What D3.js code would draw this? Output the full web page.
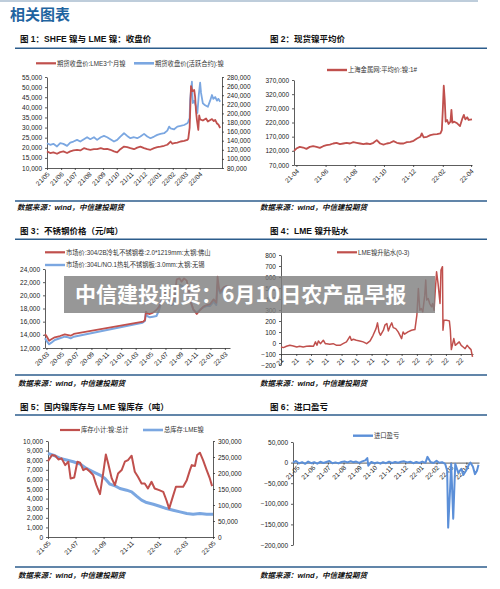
<!DOCTYPE html>
<html>
<head>
<meta charset="utf-8">
<script src="https://cdn.jsdelivr.net/npm/d3@7"></script>
<style>
  body { margin: 0; background: #fff; }
  svg text { font-family: "Liberation Sans", "Noto Sans CJK SC", sans-serif; fill: #222; }
  .tick text { font-size: 6.5px; }
  .tick line, .domain { stroke: #333; stroke-width: 0.8; }
  .ttl { font-size: 8.5px; font-weight: bold; fill: #111; }
  .src { font-size: 7.5px; font-weight: bold; font-style: italic; fill: #111; }
  .lg { font-size: 6.3px; fill: #333; }
</style>
</head>
<body>
<svg id="page" width="500" height="589"></svg>
<script>
// ---- data ----
var c1Months = ["21/05","21/06","21/07","21/08","21/09","21/10","21/11","21/12","22/01","22/02","22/03","22/04"];
var c1LeftTicks = [10000,15000,20000,25000,30000,35000,40000,45000,50000,55000];
var c1RightTicks = [80000,100000,120000,140000,160000,180000,200000,220000,240000,260000,280000];
var c1Lme = [["2021-05-01",18200],["2021-05-08",17400],["2021-05-15",17700],["2021-05-23",17050],["2021-05-30",17850],["2021-06-06",18200],["2021-06-14",17400],["2021-06-21",18200],["2021-06-28",18700],["2021-07-06",19000],["2021-07-13",18700],["2021-07-21",19800],["2021-07-28",19300],["2021-08-04",19000],["2021-08-12",19300],["2021-08-19",19300],["2021-08-27",19800],["2021-09-03",19300],["2021-09-10",19500],["2021-09-17",19000],["2021-09-25",18200],["2021-10-02",17700],["2021-10-09",19300],["2021-10-17",20600],["2021-10-24",20300],["2021-10-31",19800],["2021-11-08",19300],["2021-11-15",20100],["2021-11-22",20600],["2021-11-30",19800],["2021-12-07",19300],["2021-12-14",19000],["2021-12-22",19800],["2021-12-29",20300],["2022-01-05",20600],["2022-01-13",21000],["2022-01-20",21500],["2022-01-27",23100],["2022-01-31",22000],["2022-02-04",22300],["2022-02-11",22600],["2022-02-18",23100],["2022-02-26",23400],["2022-03-05",23900],["2022-03-07",24500],["2022-03-10",30000],["2022-03-13",50500],["2022-03-16",48000],["2022-03-20",48600],["2022-03-22",45200],["2022-03-24",38000],["2022-03-26",33700],["2022-03-29",28800],["2022-03-31",36000],["2022-04-02",34000],["2022-04-08",33500],["2022-04-15",34500],["2022-04-19",33000],["2022-04-28",34200],["2022-05-02",33200],["2022-05-05",33800],["2022-05-09",32000],["2022-05-12",31500],["2022-05-16",29800]];
var c1Shfe = [["2021-05-01",134500],["2021-05-08",131000],["2021-05-15",133100],["2021-05-23",127300],["2021-05-30",134500],["2021-06-06",133100],["2021-06-14",128700],["2021-06-21",136000],["2021-06-28",138200],["2021-07-06",141800],["2021-07-13",138200],["2021-07-21",143300],["2021-07-28",147600],["2021-08-04",143300],["2021-08-12",147600],["2021-08-19",141800],["2021-08-27",147600],["2021-09-03",150500],["2021-09-10",147600],["2021-09-17",143300],["2021-09-25",138200],["2021-10-02",141800],["2021-10-09",149100],["2021-10-17",156400],["2021-10-24",150500],["2021-10-31",145500],["2021-11-08",147600],["2021-11-15",145500],["2021-11-22",149100],["2021-11-30",155000],["2021-12-07",149100],["2021-12-14",145500],["2021-12-22",149100],["2021-12-29",152700],["2022-01-05",155000],["2022-01-13",156400],["2022-01-20",162200],["2022-01-24",170900],["2022-01-27",167300],["2022-02-04",165100],["2022-02-11",170900],["2022-02-18",172400],["2022-02-26",174500],["2022-03-05",178200],["2022-03-07",182000],["2022-03-10",190000],["2022-03-11",230000],["2022-03-15",269700],["2022-03-16",240000],["2022-03-17",222800],["2022-03-20",228000],["2022-03-24",215000],["2022-03-27",200900],["2022-03-30",240000],["2022-04-02",267500],["2022-04-04",245000],["2022-04-08",222100],["2022-04-13",218000],["2022-04-19",214700],["2022-04-24",228000],["2022-04-28",240400],["2022-05-01",232000],["2022-05-05",236000],["2022-05-09",228000],["2022-05-12",232000],["2022-05-16",225700]];

var c2Months = ["21-04","21-06","21-08","21-10","21-12","22-02","22-04"];
var c2Ticks = [70000,120000,170000,220000,270000,320000,370000];
var c2Avg = [["2021-03-27",119800],["2021-04-01",128100],["2021-04-08",134000],["2021-04-15",131700],["2021-04-22",126900],["2021-04-29",134000],["2021-05-06",136400],["2021-05-13",134000],["2021-05-20",130500],["2021-05-27",136400],["2021-06-03",140000],["2021-06-10",142300],["2021-06-17",145900],["2021-06-24",148300],["2021-07-01",143500],["2021-07-08",145900],["2021-07-15",148300],["2021-07-22",145900],["2021-07-29",150600],["2021-08-05",148300],["2021-08-12",145900],["2021-08-19",143500],["2021-08-26",145900],["2021-09-02",143500],["2021-09-09",148300],["2021-09-16",157700],["2021-09-23",145900],["2021-09-30",142300],["2021-10-07",145900],["2021-10-14",148300],["2021-10-21",154200],["2021-10-28",148300],["2021-11-04",145900],["2021-11-11",145900],["2021-11-18",150600],["2021-11-25",151800],["2021-12-02",155400],["2021-12-09",163700],["2021-12-16",169600],["2021-12-19",181500],["2021-12-23",167200],["2021-12-30",169600],["2022-01-06",175500],["2022-01-13",177900],["2022-01-20",179100],["2022-01-27",181500],["2022-01-30",193300],["2022-02-01",264500],["2022-02-03",349800],["2022-02-05",300000],["2022-02-07",223000],["2022-02-10",228900],["2022-02-13",214700],["2022-02-17",223000],["2022-02-19",264500],["2022-02-21",219400],["2022-02-25",223000],["2022-03-03",217000],["2022-03-09",207500],["2022-03-14",234800],["2022-03-17",246700],["2022-03-20",231300],["2022-03-24",238400],["2022-03-27",228900],["2022-04-03",231300]];

var c3Months = ["20-03","20-05","20-07","20-09","20-11","21-01","21-03","21-05","21-07","21-09","21-11","22-01","22-03"];
var c3Ticks = [12000,14000,16000,18000,20000,22000,24000];
var c3Cold = [["2020-02-24",14130],["2020-03-01",13820],["2020-03-12",13110],["2020-03-21",13320],["2020-04-04",13620],["2020-04-25",13820],["2020-05-15",14080],["2020-05-29",13970],["2020-06-08",13870],["2020-06-21",14130],["2021-04-01",16000],["2021-04-08",16250],["2021-04-12",17520],["2021-04-17",17270],["2021-04-28",17160],["2021-05-11",17370],["2021-05-25",17770],["2021-06-05",18280],["2021-06-15",19290],["2021-06-24",20050],["2021-07-05",20810],["2021-07-16",19700],["2021-07-26",19040],["2021-08-05",19540],["2021-08-16",22430],["2021-08-27",22580],["2021-09-05",22080],["2021-09-15",22580],["2021-09-26",22230],["2021-10-04",20810],["2021-10-12",19040],["2021-10-23",17870],["2021-11-06",17160],["2021-11-20",17770],["2021-12-03",18280],["2021-12-17",18530],["2021-12-31",18680],["2022-01-14",19390],["2022-01-25",18880],["2022-01-30",22830],["2022-02-05",21060],["2022-02-10",20560],["2022-02-24",21220],["2022-03-08",21420],["2022-03-21",21220]];
var c3Hot = [["2020-02-24",13470],["2020-03-01",13110],["2020-03-12",12560],["2020-03-21",12810],["2020-04-04",13220],["2020-04-25",13470],["2020-05-15",13720],["2020-05-29",13620],["2020-06-08",13470],["2020-06-21",13720],["2021-03-29",15850],["2021-04-08",16100],["2021-04-12",17370],["2021-04-17",16860],["2021-04-28",16660],["2021-05-11",16760],["2021-05-25",16860],["2021-06-05",17770],["2021-06-15",19040],["2021-06-24",19700],["2021-07-05",20300],["2021-07-16",19290],["2021-07-26",18530],["2021-08-05",18780],["2021-08-16",20810],["2021-08-29",21570],["2021-09-12",21320],["2021-09-26",20560],["2021-10-10",19290],["2021-10-23",17770],["2021-11-06",17370],["2021-11-20",17870],["2021-12-03",18180],["2021-12-17",18380],["2021-12-31",18380],["2022-01-14",19040],["2022-01-25",18530],["2022-01-30",21570],["2022-02-05",20810],["2022-02-10",20300],["2022-02-24",20810],["2022-03-08",21060],["2022-03-21",20910]];

var c4Months = ["21-05","21-06","21-07","21-08","21-09","21-10","21-11","21-12","22-01","22-02","22-03","22-04","22-05"];
var c4Ticks = [-200,-100,0,100,200,300,400,500,600,700,800];
var c4Spread = [["2021-05-01",-36],["2021-05-06",-42],["2021-05-12",-30],["2021-05-19",-21],["2021-05-26",-27],["2021-06-02",-36],["2021-06-08",-30],["2021-06-15",-36],["2021-06-22",-30],["2021-06-29",-27],["2021-07-06",-30],["2021-07-10",10],["2021-07-13",-21],["2021-07-16",19],["2021-07-20",-6],["2021-07-23",10],["2021-07-26",25],["2021-07-30",-6],["2021-08-02",-6],["2021-08-08",-12],["2021-08-15",-6],["2021-08-22",-21],["2021-08-29",-21],["2021-09-04",-6],["2021-09-11",10],["2021-09-18",61],["2021-09-21",25],["2021-09-25",34],["2021-10-01",25],["2021-10-08",19],["2021-10-15",10],["2021-10-22",-6],["2021-10-29",19],["2021-11-04",70],["2021-11-10",131],["2021-11-13",183],["2021-11-16",101],["2021-11-19",70],["2021-11-25",116],["2021-11-28",162],["2021-12-02",177],["2021-12-05",110],["2021-12-08",146],["2021-12-12",183],["2021-12-15",140],["2021-12-20",131],["2021-12-25",101],["2022-01-01",40],["2022-01-04",101],["2022-01-07",80],["2022-01-14",101],["2022-01-21",116],["2022-01-28",122],["2022-02-01",253],["2022-02-04",496],["2022-02-07",298],["2022-02-10",314],["2022-02-13",283],["2022-02-17",435],["2022-02-19",572],["2022-02-21",390],["2022-02-24",405],["2022-02-27",359],["2022-03-03",329],["2022-03-05",359],["2022-03-08",298],["2022-03-10",450],["2022-03-13",648],["2022-03-16",542],["2022-03-20",359],["2022-03-22",663],["2022-03-25",694],["2022-03-26",116],["2022-03-28",207],["2022-04-02",207],["2022-04-08",201],["2022-04-10",116],["2022-04-12",-60],["2022-04-14",-21],["2022-04-17",40],["2022-04-20",-21],["2022-04-24",-6],["2022-04-28",10],["2022-05-02",-21],["2022-05-06",-36],["2022-05-10",-51],["2022-05-14",-21],["2022-05-18",-42],["2022-05-22",-60],["2022-05-25",-127]];

var c5Months = ["21-05","21-07","21-09","21-11","22-01","22-03","22-05"];
var c5LeftTicks = [0,1000,2000,3000,4000,5000,6000,7000,8000,9000,10000];
var c5RightTicks = [0,50000,100000,150000,200000,250000,300000];
var c5Domestic = [["2021-05-01",7900],["2021-05-10",8540],["2021-05-17",8470],["2021-05-24",8080],["2021-05-31",8190],["2021-06-08",7490],["2021-06-15",7840],["2021-06-20",6100],["2021-06-28",6200],["2021-07-05",7840],["2021-07-11",7740],["2021-07-18",6970],["2021-07-25",7140],["2021-08-02",6800],["2021-08-09",6450],["2021-08-16",5400],["2021-08-24",4460],["2021-08-31",6620],["2021-09-06",8600],["2021-09-11",7670],["2021-09-19",6100],["2021-09-26",5400],["2021-10-03",6620],["2021-10-11",6970],["2021-10-18",7840],["2021-10-25",8010],["2021-11-02",8470],["2021-11-09",6800],["2021-11-16",6270],["2021-11-24",5570],["2021-12-01",5570],["2021-12-08",5050],["2021-12-16",5750],["2021-12-23",5050],["2022-01-02",4880],["2022-01-11",4700],["2022-01-18",3830],["2022-01-24",2960],["2022-02-01",4180],["2022-02-08",5230],["2022-02-17",5230],["2022-02-24",5230],["2022-03-04",5920],["2022-03-11",6970],["2022-03-15",7490],["2022-03-22",7390],["2022-03-27",8540],["2022-04-02",8780],["2022-04-09",8010],["2022-04-17",6970],["2022-04-24",6100],["2022-04-29",5300]];
var c5Lme = [["2021-05-01",261000],["2021-05-13",256000],["2021-05-28",245600],["2021-06-11",240400],["2021-06-26",235200],["2021-07-11",227900],["2021-07-25",214300],["2021-08-09",203800],["2021-08-24",193400],["2021-09-04",182900],["2021-09-15",165200],["2021-09-26",160000],["2021-10-07",151600],["2021-10-22",146300],["2021-11-02",141100],["2021-11-13",127500],["2021-11-24",115000],["2021-12-05",107700],["2021-12-20",102400],["2022-01-03",96200],["2022-01-18",88900],["2022-02-02",83600],["2022-02-17",78400],["2022-03-04",73200],["2022-03-18",71100],["2022-04-02",73200],["2022-04-17",71100],["2022-05-01",71100]];

var c6Months = ["21-05","21-06","21-07","21-08","21-09","21-10","21-11","21-12","22-01","22-02","22-03","22-04"];
var c6Ticks = [-200000,-150000,-100000,-50000,0,50000];
var c6Profit = [["2021-04-23",0],["2021-04-29",4000],["2021-05-05",-2000],["2021-05-11",1000],["2021-05-17",-3000],["2021-05-23",2500],["2021-05-29",-1500],["2021-06-04",1000],["2021-06-10",-2500],["2021-06-16",2000],["2021-06-22",-1000],["2021-06-28",1500],["2021-07-04",4000],["2021-07-10",-1500],["2021-07-16",500],["2021-07-22",-2000],["2021-07-28",1500],["2021-08-03",3000],["2021-08-09",500],["2021-08-15",3500],["2021-08-20",1000],["2021-08-26",2500],["2021-09-01",-500],["2021-09-07",3000],["2021-09-13",5500],["2021-09-17",11000],["2021-09-19",-7500],["2021-09-25",1500],["2021-10-01",-1500],["2021-10-07",500],["2021-10-13",-2500],["2021-10-18",1000],["2021-10-24",-1500],["2021-10-30",2000],["2021-11-05",-1000],["2021-11-11",1500],["2021-11-17",-500],["2021-11-23",2000],["2021-11-29",3000],["2021-12-05",500],["2021-12-11",2000],["2021-12-17",-1500],["2021-12-23",1500],["2021-12-29",-1000],["2022-01-04",2500],["2022-01-10",-500],["2022-01-14",14000],["2022-01-20",1500],["2022-01-26",-1000],["2022-02-01",4500],["2022-02-06",-500],["2022-02-12",1000],["2022-02-18",-3000],["2022-02-22",-20000],["2022-02-24",-157800],["2022-02-28",-60000],["2022-03-02",-3000],["2022-03-06",-136000],["2022-03-10",-3000],["2022-03-16",-25000],["2022-03-22",-15000],["2022-03-26",-30000],["2022-04-01",-18000],["2022-04-06",-5000],["2022-04-09",0],["2022-04-14",-10000],["2022-04-18",-28000],["2022-04-22",-20000],["2022-04-25",-5000]];

// ---- drawing ----
var svg = d3.select("#page");
var parse = d3.timeParse("%Y-%m-%d");
var parseSlash = d3.timeParse("%y/%m");
var parseDash = d3.timeParse("%y-%m");
var comma = d3.format(",");
var RED = "#c0504d", BLUE = "#7ba7e1", BLUE6 = "#5b8fd8";

function drawSeries(data, x, y, color, w) {
  var line = d3.line().x(function(d){ return x(parse(d[0])); }).y(function(d){ return y(d[1]); });
  svg.append("path").datum(data).attr("d", line)
    .attr("fill", "none").attr("stroke", color).attr("stroke-width", w)
    .attr("stroke-linejoin", "round");
}

function yAxis(scale, ticks, xpos, right) {
  var ax = right ? d3.axisRight(scale) : d3.axisLeft(scale);
  svg.append("g").attr("transform", "translate(" + xpos + ",0)")
    .call(ax.tickValues(ticks).tickFormat(comma).tickSize(2).tickSizeOuter(0).tickPadding(3));
}

function xAxis(scale, labels, parser, ypos, labelY, fmt) {
  var g = svg.append("g").attr("transform", "translate(0," + ypos + ")")
    .call(d3.axisBottom(scale).tickValues(labels.map(function(d){ return parser(d); }))
      .tickFormat(function(d, i){ return fmt ? fmt(labels[i]) : labels[i]; })
      .tickSize(2).tickSizeOuter(0));
  g.selectAll(".tick text")
    .attr("y", 0).attr("dy", "0.35em")
    .attr("transform", "translate(1," + labelY + ") rotate(-45)")
    .style("text-anchor", "end");
  return g;
}

function legend(x, y, color, w, label) {
  svg.append("line").attr("x1", x).attr("x2", x + 20).attr("y1", y).attr("y2", y)
    .attr("stroke", color).attr("stroke-width", w);
  svg.append("text").attr("class", "lg").attr("x", x + 21).attr("y", y + 2.2).text(label);
}

// page frame
svg.append("line").attr("x1", 0).attr("x2", 478).attr("y1", 1).attr("y2", 1)
  .attr("stroke", "#a8bccf").attr("stroke-width", 1.5);
svg.append("text").attr("x", 10).attr("y", 19.5).style("font-size", "15px").style("font-weight", "bold")
  .style("fill", "#1f64a0").style("font-family", "'Noto Sans CJK SC'").text("相关图表");

var titles = [["图 1：SHFE 镍与 LME 镍：收盘价", 20, 42], ["图 2：现货镍平均价", 270, 42],
  ["图 3：不锈钢价格（元/吨）", 20, 234], ["图 4：LME 镍升贴水", 270, 234],
  ["图 5：国内镍库存与 LME 镍库存（吨）", 20, 410], ["图 6：进口盈亏", 270, 410]];
titles.forEach(function(t){
  svg.append("text").attr("class", "ttl").attr("x", t[1]).attr("y", t[2]).text(t[0]);
});
[48.3, 239.3, 415].concat([201, 375, 567]).forEach(function(yy){
  svg.append("line").attr("x1", 15).attr("x2", 487).attr("y1", yy).attr("y2", yy)
    .attr("stroke", "#2c5d8c").attr("stroke-width", 1.5);
});
[[17, 209.5], [260, 209.5], [18, 386], [260, 386], [18, 578], [260, 578]].forEach(function(p){
  svg.append("text").attr("class", "src").attr("x", p[0]).attr("y", p[1]).text("数据来源：wind，中信建投期货");
});

// chart 1
var x1 = d3.scaleTime().domain([parse("2021-05-01"), parse("2022-05-20")]).range([47, 222]);
var y1L = d3.scaleLinear().domain([10000, 55000]).range([168, 77]);
var y1R = d3.scaleLinear().domain([80000, 280000]).range([168, 77]);
yAxis(y1L, c1LeftTicks, 47, false);
yAxis(y1R, c1RightTicks, 222, true);
xAxis(x1, c1Months, parseSlash, 168, 5);
drawSeries(c1Shfe, x1, y1R, BLUE, 1.8);
drawSeries(c1Lme, x1, y1L, RED, 1.8);
legend(36, 63.3, RED, 2.2, "期货收盘价:LME3个月镍");
legend(134, 63.3, BLUE, 2.6, "期货收盘价(活跃合约):镍");

// chart 2
var x2 = d3.scaleTime().domain([parse("2021-03-27"), parse("2022-04-03")]).range([294, 472]);
var y2 = d3.scaleLinear().domain([70000, 370000]).range([165, 80]);
yAxis(y2, c2Ticks, 294, false);
xAxis(x2, c2Months, parseDash, 165, 5);
drawSeries(c2Avg, x2, y2, RED, 1.8);
legend(327, 70, RED, 2.4, "上海金属网:平均价:镍:1#");

// chart 3
var x3 = d3.scaleTime().domain([parse("2020-02-24"), parse("2022-03-22")]).range([45, 230]);
var y3 = d3.scaleLinear().domain([12000, 24000]).range([348, 269]);
yAxis(y3, c3Ticks, 45, false);
xAxis(x3, c3Months, parseDash, 348, 5);
drawSeries(c3Hot, x3, y3, BLUE, 2);
drawSeries(c3Cold, x3, y3, RED, 1.8);
legend(45, 252.3, RED, 2.2, "市场价:304/2B冷轧不锈钢卷:2.0*1219mm:太钢:佛山");
legend(45, 265, BLUE, 2.4, "市场价:304L/NO.1热轧不锈钢板:3.0mm:太钢:无锡");

// chart 4
var x4 = d3.scaleTime().domain([parse("2021-05-01"), parse("2022-05-26")]).range([281, 473]);
var y4 = d3.scaleLinear().domain([-200, 800]).range([365, 255]);
yAxis(y4, c4Ticks, 281, false);
xAxis(x4, c4Months, parseDash, y4(-100), 5, function(s){ return s.slice(0, 2); });
drawSeries(c4Spread, x4, y4, RED, 1.5);
legend(337, 252.3, RED, 2.2, "LME镍升贴水(0-3)");

// chart 5
var x5 = d3.scaleTime().domain([parse("2021-05-01"), parse("2022-05-01")]).range([48, 213]);
var y5L = d3.scaleLinear().domain([0, 10000]).range([537, 441]);
var y5R = d3.scaleLinear().domain([0, 300000]).range([537, 441]);
yAxis(y5L, c5LeftTicks, 48, false);
yAxis(y5R, c5RightTicks, 213, true);
xAxis(x5, c5Months, parseDash, 537, 5);
drawSeries(c5Lme, x5, y5R, BLUE, 3);
drawSeries(c5Domestic, x5, y5L, RED, 2);
legend(60, 430, RED, 2.2, "库存小计:镍:总计");
legend(143, 430, BLUE, 2.6, "总库存:LME镍");

// chart 6
var x6 = d3.scaleTime().domain([parse("2021-04-23"), parse("2022-04-26")]).range([293, 479]);
var y6 = d3.scaleLinear().domain([-200000, 50000]).range([545, 442]);
yAxis(y6, c6Ticks, 293, false);
xAxis(x6, c6Months, parseDash, y6(0), 4);
drawSeries(c6Profit, x6, y6, BLUE6, 2);
legend(353, 435.7, BLUE6, 2.4, "进口盈亏");

// watermark banner
svg.append("rect").attr("x", 64).attr("y", 276).attr("width", 371).attr("height", 37)
  .attr("fill", "rgb(128,128,128)").attr("fill-opacity", 0.82);
svg.append("text").attr("x", 75).attr("y", 301.5).style("font-size", "21px").style("font-weight", "bold")
  .style("fill", "#fff").style("font-family", "'Noto Sans CJK SC'").text("中信建投期货：6月10日农产品早报");
</script>
</body>
</html>
